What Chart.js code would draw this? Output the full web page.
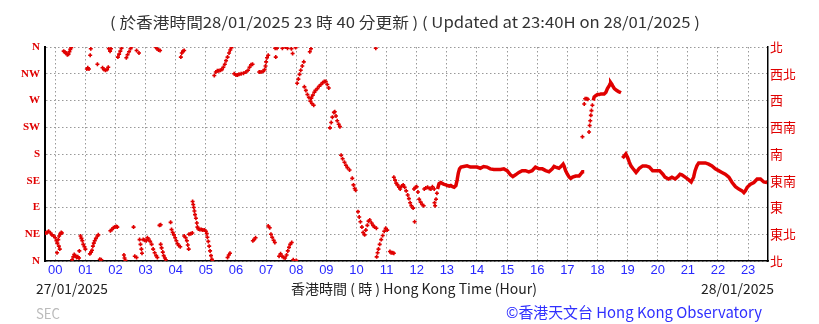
<!DOCTYPE html>
<html>
<head>
<meta charset="utf-8">
<script src="https://cdn.jsdelivr.net/npm/chart.js@4.4.1/dist/chart.umd.min.js"></script>
<style>
  html, body { margin: 0; padding: 0; background: #fff; }
  #wrap { width: 819px; height: 324px; }
</style>
</head>
<body>
<div id="wrap"><canvas id="windChart" width="819" height="324"></canvas></div>
<script>
// x range: 24 hours ending at 23:40
const xMin = -0.34
const xMax = 23.66
const hourTicks = [0,1,2,3,4,5,6,7,8,9,10,11,12,13,14,15,16,17,18,19,20,21,22,23]
const dirTicks = [0,45,90,135,180,225,270,315,360]
const leftLabels = ['N','NE','E','SE','S','SW','W','NW','N']
const rightLabels = ['北','東北','東','東南','南','西南','西','西北','北']

// scattered readings (hour, degrees)
const dotHours = [
  -0.32,-0.27,-0.22,-0.16,-0.11,-0.05,0.0,0.04,0.07,0.06,0.1,0.12,0.15,0.13,0.17,0.2,0.22,
  0.28,0.32,0.36,0.4,0.44,0.47,0.5,0.53,
  0.56,0.6,0.63,0.67,0.71,0.75,0.79,0.8,
  0.84,0.87,0.9,0.93,0.97,1.0,
  1.05,1.08,1.12,1.16,1.18,
  1.15,1.19,1.22,1.25,1.28,1.31,1.35,1.4,1.43,
  1.48,1.53,
  1.4,1.57,1.62,1.67,1.72,1.76,
  1.78,1.82,1.85,
  1.83,1.88,1.93,1.98,2.03,2.06,
  2.08,2.12,2.16,2.2,
  2.28,2.3,2.33,
  2.36,2.4,2.45,2.5,2.53,
  2.6,2.64,2.7,
  2.7,2.78,
  2.8,2.83,2.86,2.88,
  2.92,2.97,3.02,3.06,3.1,3.15,3.2,3.25,3.3,3.35,3.39,
  3.33,3.38,3.43,3.48,
  3.5,3.53,3.57,3.6,3.64,3.67,
  3.46,3.5,3.83,
  3.86,3.9,3.94,3.98,4.02,4.06,4.1,4.15,
  4.17,4.2,4.24,4.28,
  4.28,4.33,4.37,4.4,4.43,
  4.44,4.5,4.55,
  4.56,4.58,4.6,4.62,4.64,4.67,4.7,4.72,4.75,4.8,4.85,4.9,4.95,5.0,5.03,5.05,5.08,5.11,5.14,5.17,5.2,5.22,
  5.28,5.33,5.38,5.43,5.48,5.53,5.58,5.63,5.67,5.72,5.77,5.81,5.85,
  5.72,5.76,5.8,
  5.94,6.0,6.05,6.1,6.17,6.25,6.33,6.4,6.45,6.5,6.55,
  6.56,6.6,6.65,
  6.77,6.83,6.9,6.95,6.98,7.0,7.03,7.07,
  7.07,7.12,7.16,7.2,7.25,7.29,
  7.3,7.32,7.36,7.54,7.64,7.71,7.84,7.88,7.98,8.45,8.49,10.64,
  7.43,7.48,7.53,7.58,7.63,7.68,7.72,7.76,7.8,7.85,7.9,8.0,
  8.03,8.07,8.11,8.15,8.2,8.25,
  8.27,8.32,8.37,8.42,8.47,8.52,8.58,
  8.5,8.55,8.6,8.64,8.7,8.76,8.82,8.88,8.93,8.98,9.03,9.08,
  9.12,9.16,9.2,9.25,9.28,9.32,9.36,9.41,9.45,
  9.49,9.54,9.6,9.65,9.7,9.77,
  9.86,9.9,9.94,9.97,
  10.05,10.09,10.13,10.18,10.22,10.27,10.31,10.36,10.4,10.44,10.5,10.55,10.6,10.66,
  10.67,10.7,10.73,10.77,10.82,10.87,10.92,10.97,11.02,
  11.11,11.15,11.2,11.24,
  11.24,11.28,11.32,11.36,11.41,11.45,11.5,11.55,11.6,11.65,11.7,11.74,11.78,11.82,11.88,11.93,
  11.91,11.96,12.0,12.04,12.08,12.13,12.18,12.23,
  12.25,12.3,12.36,12.42,12.47,12.52,12.58,12.59,12.61,12.64,12.67,
  17.5,17.56,17.59,17.64,17.68,17.72,17.74,17.76,17.78,17.8,17.83
]
const dotDirs = [
  47,48,50,47,44,42,39,34,30,14,36,25,20,42,46,48,47,
  353,351,350,347,348,352,356,359,
  2,7,11,9,6,7,5,17,
  42,38,34,28,24,20,
  323,325,323,346,357,
  12,15,18,25,30,34,38,42,44,
  3,2,
  331,325,322,321,322,326,
  357,353,357,
  51,53,56,57,58,57,
  343,348,353,358,
  10,5,1,
  342,347,352,357,360,
  57,8,6,
  354,350,
  36,28,20,13,
  36,35,34,39,37,33,28,20,14,9,6,
  360,357,355,354,
  28,22,15,9,5,2,
  60,61,65,
  53,48,44,39,34,29,26,24,
  343,350,353,354,
  42,39,34,27,20,
  45,46,47,
  100,95,90,84,78,72,64,57,54,53,53,52,52,50,46,40,33,25,17,9,3,0,
  312,318,320,320,321,322,326,331,337,343,350,355,359,
  6,10,13,
  315,313,313,314,315,316,318,321,326,330,331,
  34,36,39,
  318,318,319,322,328,335,342,346,
  59,56,45,40,35,31,
  358,343,358,358,360,358,357,349,359,352,357,358,
  8,12,8,6,5,10,17,23,28,31,2,1,
  299,306,314,321,328,335,
  293,287,280,275,269,265,262,
  274,279,284,287,290,294,297,300,302,302,297,291,
  224,233,242,250,251,244,236,230,226,
  178,172,166,161,157,153,
  139,128,122,119,
  83,74,66,57,48,44,52,60,67,69,64,60,57,55,
  7,14,20,28,36,43,50,55,52,
  16,14,14,13,
  141,136,131,128,124,121,126,128,124,118,111,105,98,93,89,66,
  121,124,125,116,104,99,95,93,
  121,123,124,122,121,125,121,98,93,104,114,
  209,264,273,273,272,217,228,236,245,253,262
]

// continuous traces
const trace1Hours = [12.69,12.74,12.8,12.86,12.91,12.97,13.02,13.08,13.13,13.19,13.24,13.3,13.34,13.38,13.42,13.47,13.56,13.67,13.78,13.89,14.0,14.11,14.22,14.33,14.44,14.56,14.67,14.78,14.89,15.0,15.11,15.19,15.28,15.39,15.5,15.61,15.72,15.83,15.94,16.06,16.17,16.28,16.39,16.5,16.56,16.61,16.72,16.81,16.86,16.89,16.94,17.0,17.06,17.11,17.17,17.28,17.39,17.44,17.5,17.56]
const trace1Dirs = [121,130,132,130,129,128,127,126,127,125,124,127,136,148,155,158,159,160,158,158,158,156,159,158,155,154,154,154,155,152,145,142,145,149,152,152,150,152,158,155,155,152,150,155,159,158,156,160,163,160,152,146,141,139,141,143,143,146,150,150]
const trace2Hours = [17.86,17.89,17.94,18.0,18.06,18.11,18.17,18.22,18.28,18.33,18.39,18.42,18.44,18.48,18.5,18.56,18.63,18.7,18.78]
const trace2Dirs = [270,276,278,280,280,281,281,281,284,290,295,298,300,297,295,290,287,285,283]
const trace3Hours = [18.83,18.89,18.94,19.0,19.06,19.11,19.17,19.28,19.33,19.39,19.5,19.61,19.72,19.83,19.94,20.06,20.17,20.24,20.36,20.47,20.58,20.69,20.74,20.8,20.91,21.02,21.11,21.19,21.24,21.3,21.36,21.47,21.58,21.69,21.8,21.91,22.02,22.13,22.24,22.36,22.47,22.58,22.69,22.8,22.86,22.91,22.97,23.08,23.19,23.3,23.41,23.52,23.63]
const trace3Dirs = [173,177,180,174,166,160,156,149,152,156,160,160,158,152,152,152,146,141,138,141,138,143,146,145,141,137,133,141,152,160,165,165,165,163,160,155,152,149,146,141,132,125,121,118,115,118,124,129,132,138,138,133,132]

const RED = '#e00000'
const BLUE = '#2828ff'

function toPoints(hours, dirs) {
  const n = Math.min(hours.length, dirs.length)
  const pts = []
  for (let i = 0; i < n; i++) pts.push({ x: hours[i], y: dirs[i] })
  return pts
}

// join the traces with a null so the line breaks between them
const traceData = [
  ...toPoints(trace1Hours, trace1Dirs), { x: 17.7, y: null },
  ...toPoints(trace2Hours, trace2Dirs), { x: 18.8, y: null },
  ...toPoints(trace3Hours, trace3Dirs)
]
const dotData = toPoints(dotHours, dotDirs)

function fitText(ctx, text, left, right, y, font, color) {
  ctx.save()
  ctx.font = font
  ctx.fillStyle = color
  ctx.textBaseline = 'middle'
  ctx.textAlign = 'left'
  const w = ctx.measureText(text).width
  ctx.translate(left, y)
  ctx.scale((right - left) / w, 1)
  ctx.fillText(text, 0, 0)
  ctx.restore()
}

const textPlugin = {
  id: 'hkoText',
  afterDraw(chart) {
    const ctx = chart.ctx
    const f = '"Noto Sans CJK TC", "Open Sans", sans-serif'
    fitText(ctx, '( 於香港時間28/01/2025 23 時 40 分更新 ) ( Updated at 23:40H on 28/01/2025 )', 110, 700, 22, '15px ' + f, '#333')
    fitText(ctx, '27/01/2025', 36, 108, 289, '14px ' + f, '#222')
    fitText(ctx, '香港時間 ( 時 ) Hong Kong Time (Hour)', 291, 537, 289, '14px ' + f, '#222')
    fitText(ctx, '28/01/2025', 701, 774, 289, '14px ' + f, '#222')
    fitText(ctx, 'SEC', 36, 60, 314, '14px ' + f, '#bbb')
    fitText(ctx, '©香港天文台 Hong Kong Observatory', 506, 762, 312, '15px ' + f, '#3030ff')
  }
}

const gridDash = [1.5, 2.5]

new Chart(document.getElementById('windChart').getContext('2d'), {
  type: 'scatter',
  data: {
    datasets: [
      {
        data: traceData,
        showLine: true,
        spanGaps: false,
        borderColor: RED,
        borderWidth: 3.5,
        pointRadius: 0,
        yAxisID: 'y'
      },
      {
        data: dotData,
        pointStyle: 'cross',
        pointRadius: 2,
        borderWidth: 1.6,
        borderColor: RED,
        backgroundColor: RED,
        yAxisID: 'y'
      }
    ]
  },
  options: {
    responsive: false,
    animation: false,
    devicePixelRatio: 1,
    layout: { padding: { top: 47, left: 0, right: 0, bottom: 0 } },
    plugins: {
      legend: { display: false },
      tooltip: { enabled: false }
    },
    scales: {
      x: {
        type: 'linear',
        min: xMin,
        max: xMax,
        afterBuildTicks: s => { s.ticks = hourTicks.map(v => ({ value: v })) },
        afterFit: s => { s.height = 63 },
        grid: { color: '#999', lineWidth: 1, drawTicks: false },
        border: { color: '#000', width: 1.5, dash: gridDash },
        ticks: {
          color: BLUE,
          padding: 2,
          autoSkip: false,
          maxRotation: 0,
          font: { family: '"Liberation Sans Narrow", "Liberation Sans", sans-serif', size: 13 },
          callback: v => String(v).padStart(2, '0')
        }
      },
      y: {
        position: 'left',
        min: 0,
        max: 360,
        afterBuildTicks: s => { s.ticks = dirTicks.map(v => ({ value: v })) },
        afterFit: s => { s.width = 45 },
        grid: { color: '#999', lineWidth: 1, drawTicks: false },
        border: { color: '#000', width: 2, dash: gridDash },
        ticks: {
          color: RED,
          padding: 5,
          font: { family: '"Liberation Serif", serif', size: 11, weight: 'bold' },
          callback: (v, i) => leftLabels[i]
        }
      },
      yRight: {
        position: 'right',
        min: 0,
        max: 360,
        afterBuildTicks: s => { s.ticks = dirTicks.map(v => ({ value: v })) },
        afterFit: s => { s.width = 51 },
        grid: { drawOnChartArea: false, drawTicks: false },
        border: { color: '#000', width: 1.5 },
        ticks: {
          color: RED,
          padding: 2,
          font: { family: '"Noto Sans CJK TC", sans-serif', size: 13 },
          callback: (v, i) => rightLabels[i]
        }
      }
    }
  },
  plugins: [textPlugin]
})
</script>
</body>
</html>
